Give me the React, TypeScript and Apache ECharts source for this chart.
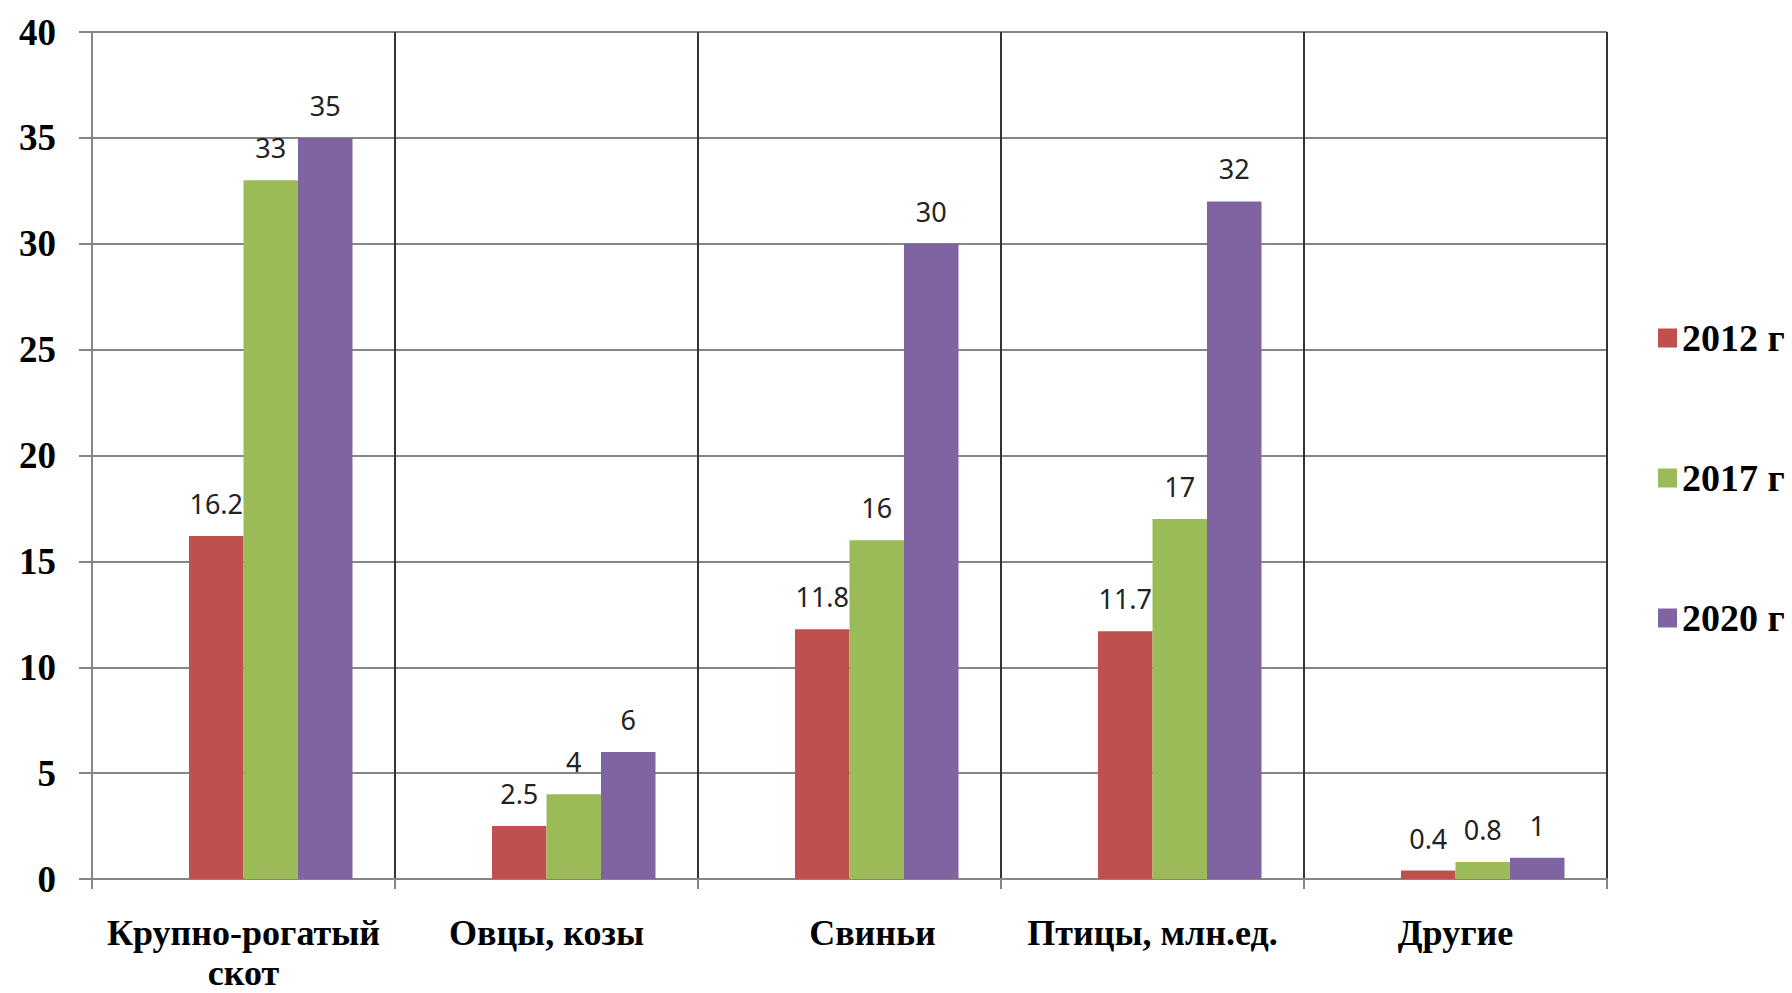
import React, { useEffect, useRef } from "react";
import * as echarts from "echarts";

const categories = ["Крупно-рогатый\nскот", "Овцы, козы", "Свиньи", "Птицы, млн.ед.", "Другие"];
const seriesNames = ["2012 г", "2017 г", "2020 г"];
const values2012 = [16.2, 2.5, 11.8, 11.7, 0.4];
const values2017 = [33, 4, 16, 17, 0.8];
const values2020 = [35, 6, 30, 32, 1];
const spacer = [null, null, null, null, null];
const colors = ["#C0504D", "#9BBB59", "#8064A2"];

export default function App() {
  const ref = useRef<HTMLDivElement>(null);
  useEffect(() => {
    if (!ref.current) return;
    const chart = echarts.init(ref.current, undefined, { renderer: "svg" });
    const label = {
      show: true,
      position: "top",
      distance: 19,
      fontFamily: "Noto Sans",
      fontSize: 27,
      color: "#222",
    };
    const mk = (name: string, data: number[], color: string) => ({
      name,
      type: "bar",
      data,
      barWidth: 54.5,
      barGap: "0%",
      itemStyle: { color },
      label,
    });
    chart.setOption({
      animation: false,
      backgroundColor: "#ffffff",
      grid: { left: 92, right: 185, top: 32, bottom: 111 },
      legend: {
        data: seriesNames,
        orient: "vertical",
        left: 1653,
        top: 314,
        itemWidth: 19,
        itemHeight: 19,
        itemGap: 102,
        icon: "rect",
        textStyle: {
          fontFamily: "Liberation Serif",
          fontWeight: "bold",
          fontSize: 38,
          color: "#000",
        },
      },
      xAxis: {
        type: "category",
        data: categories,
        axisLine: { show: true, lineStyle: { color: "#868686", width: 2 } },
        axisTick: { show: true, length: 10, lineStyle: { color: "#868686", width: 2 } },
        splitLine: { show: true, lineStyle: { color: "#333333", width: 2 } },
        axisLabel: {
          margin: 34,
          fontFamily: "Liberation Serif",
          fontWeight: "bold",
          fontSize: 36,
          lineHeight: 40,
          color: "#000",
          interval: 0,
          formatter: (v: string, i: number) => (i === 2 ? "{s|" + v + "}" : v),
          rich: {
            s: {
              fontFamily: "Liberation Serif",
              fontWeight: "bold",
              fontSize: 36,
              color: "#000",
              padding: [0, 0, 0, 46],
            },
          },
        },
      },
      yAxis: {
        type: "value",
        min: 0,
        max: 40,
        interval: 5,
        axisLine: { show: true, lineStyle: { color: "#868686", width: 2 } },
        axisTick: { show: true, length: 13, lineStyle: { color: "#868686", width: 2 } },
        splitLine: { show: true, lineStyle: { color: "#868686", width: 2 } },
        axisLabel: {
          margin: 36,
          fontFamily: "Liberation Serif",
          fontWeight: "bold",
          fontSize: 37,
          color: "#000",
        },
      },
      series: [
        { name: "spacer", type: "bar", data: spacer, barWidth: 54.5, barGap: "0%", silent: true },
        mk(seriesNames[0], values2012, colors[0]),
        mk(seriesNames[1], values2017, colors[1]),
        mk(seriesNames[2], values2020, colors[2]),
      ],
    });
    return () => chart.dispose();
  }, []);
  return (
    <div
      ref={ref}
      style={{ position: "absolute", left: 0, top: 0, width: 1792, height: 993 }}
    />
  );
}
